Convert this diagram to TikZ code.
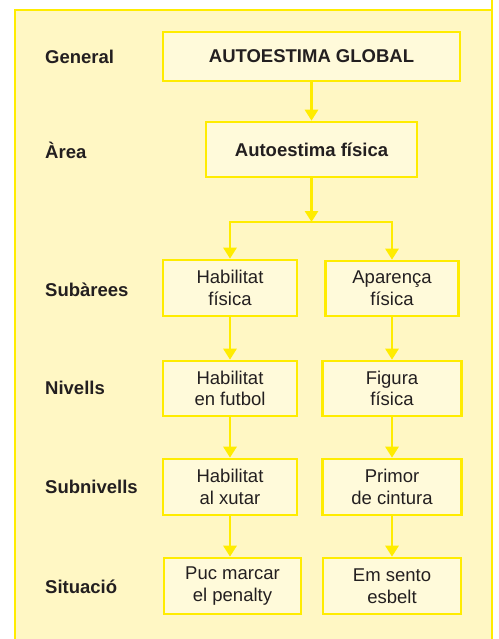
\documentclass[tikz,border=0pt]{standalone}
\usepackage{fontspec}
\setmainfont{Liberation Sans}
\usetikzlibrary{arrows.meta,positioning}
\definecolor{frameyellow}{RGB}{255,236,0}
\definecolor{panelfill}{RGB}{255,247,196}
\definecolor{boxfill}{RGB}{255,250,218}
\definecolor{inkgray}{RGB}{35,31,32}

\begin{document}
\begin{tikzpicture}[x=1pt, y=-1pt, >={Triangle[width=13pt,length=11pt]}]
    \tikzstyle{level box} = [rectangle, draw=frameyellow, fill=boxfill, line width=2.6pt, align=center, inner sep=0pt, text=inkgray, font=\fontsize{18.5}{21.7}\selectfont]
    \tikzstyle{level name} = [anchor=west, inner sep=0pt, text=inkgray, font=\fontsize{18.5}{21.7}\selectfont\bfseries]
    \tikzstyle{link} = [draw=frameyellow, line width=2.8pt]
    \useasboundingbox (0,0) rectangle (498,639);
    % panel
    \fill[panelfill] (15,10) rectangle (492,650);
    \draw[frameyellow, line width=2.4pt] (492,0) -- (492,650) (15,650) -- (15,10) -- (492,10);
    % level names
    \node[level name] (lgen) at (45,57) {General};
    \node[level name] (larea) at (45,150) {Àrea};
    \node[level name] (lsub) at (45,290) {Subàrees};
    \node[level name] (lniv) at (45,388) {Nivells};
    \node[level name] (lsubniv) at (45,487) {Subnivells};
    \node[level name] (lsit) at (45,587) {Situació};
    % boxes
    \node[level box, minimum width=297pt, minimum height=49pt, font=\fontsize{18.5}{21.7}\selectfont\bfseries] (global) at (311.5,56.5) {AUTOESTIMA GLOBAL};
    \node[level box, minimum width=211pt, minimum height=55pt, font=\fontsize{18.5}{21.7}\selectfont\bfseries] (fisica) at (311.5,149.5) {Autoestima física};
    \node[level box, minimum width=134pt, minimum height=56pt] (habfis) at (230,288) {Habilitat\\física};
    \node[level box, minimum width=133pt, minimum height=55pt] (aparenca) at (392,288.5) {Aparença\\física};
    \node[level box, minimum width=134pt, minimum height=55pt] (futbol) at (230,388.5) {Habilitat\\en futbol};
    \node[level box, minimum width=139pt, minimum height=55pt] (figura) at (392,388.5) {Figura\\física};
    \node[level box, minimum width=134pt, minimum height=56pt] (xutar) at (230,487) {Habilitat\\al xutar};
    \node[level box, minimum width=139pt, minimum height=56pt] (cintura) at (392,487) {Primor\\de cintura};
    \node[level box, minimum width=137pt, minimum height=56pt] (penalty) at (232.5,586) {Puc marcar\\el penalty};
    \node[level box, minimum width=138pt, minimum height=56pt] (esbelt) at (392,586) {Em sento\\esbelt};
    \coordinate (split) at (311.5,222);
    % arrows
    \draw[link, ->] (global) -- (fisica);
    \draw[link, ->] (fisica) -- (split);
    \draw[link, ->] (split) -| (habfis);
    \draw[link, ->] (split) -| (aparenca);
    \draw[link, ->] (habfis) -- (futbol);
    \draw[link, ->] (aparenca) -- (figura);
    \draw[link, ->] (futbol) -- (xutar);
    \draw[link, ->] (figura) -- (cintura);
    \draw[link, ->] (xutar.south) -- (xutar.south |- penalty.north);
    \draw[link, ->] (cintura) -- (esbelt);
\end{tikzpicture}
\end{document}
